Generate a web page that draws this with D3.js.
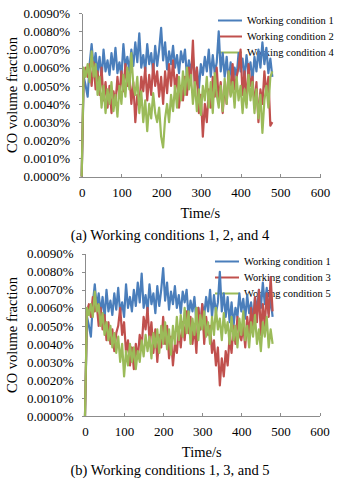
<!DOCTYPE html>
<html lang="en">
<head>
<meta charset="UTF-8">
<title>CO volume fraction</title>
<style>
  body, html { margin: 0; padding: 0; background: #fff; overflow: hidden; }
  svg { display: block; font-family: "Liberation Serif", "Times New Roman", serif; }
  .axis path, .axis line { stroke: #8c8c8c; fill: none; shape-rendering: crispEdges; }
  .axis text { font-size: 13px; fill: #000; font-family: "Liberation Serif", "Times New Roman", serif; }
  .series { fill: none; stroke-width: 2.2; stroke-linejoin: round; }
</style>
</head>
<body>
<svg width="338" height="480"></svg>
<script src="https://d3js.org/d3.v7.min.js"></script>
<script>
// sampling instants (s), one every 5 s
const times = d3.range(0, 485, 5);

// tick values; CO in ppm (10 ppm = 0.0010 %)
const yTicks = [0, 10, 20, 30, 40, 50, 60, 70, 80, 90];
const xTicks = [0, 100, 200, 300, 400, 500, 600];

// Working condition 1 (shown in both panels)
const wc1 = [
  0, 55, 50, 44, 62, 73, 60, 68, 57, 66,
  54, 70, 58, 64, 56, 68, 59, 71, 57, 63,
  55, 73, 60, 66, 58, 70, 61, 74, 63, 79,
  60, 67, 58, 73, 62, 68, 57, 72, 61, 70,
  82, 64, 74, 59, 69, 62, 72, 60, 67, 57,
  69, 63, 70, 55, 64, 58, 66, 52, 60, 48,
  62, 56, 66, 58, 70, 55, 67, 57, 63, 80,
  58, 68, 55, 66, 52, 63, 50, 60, 55, 68,
  58, 65, 54, 67, 57, 63, 53, 66, 58, 70,
  60, 74, 62, 71, 57, 65, 55
];
// Working condition 2
const wc2 = [
  0, 58, 60, 55, 62, 50, 63, 48, 58, 45,
  60, 42, 52, 38, 50, 35, 47, 40, 55, 44,
  58, 47, 62, 50, 57, 40, 52, 30, 45, 38,
  55, 47, 60, 42, 56, 45, 62, 50, 58, 44,
  55, 40, 58, 46, 62, 50, 64, 48, 56, 38,
  50, 42, 55, 45, 60, 52, 75, 48, 60, 35,
  45, 22, 40, 30, 48, 38, 55, 44, 60, 42,
  52, 35, 50, 40, 58, 45, 62, 48, 55, 60,
  70, 45, 58, 40, 62, 50, 55, 38, 52, 30,
  48, 40, 58, 45, 55, 28, 30
];
// Working condition 4
const wc4 = [
  0, 60, 55, 62, 52, 69, 55, 62, 45, 55,
  38, 50, 35, 48, 40, 52, 36, 45, 33, 50,
  40, 56, 44, 60, 48, 68, 50, 45, 55, 35,
  47, 30, 42, 25, 40, 32, 46, 35, 30, 38,
  22, 16, 32, 40, 30, 45, 36, 50, 38, 55,
  42, 58, 45, 60, 48, 56, 40, 52, 36, 48,
  34, 50, 42, 55, 38, 52, 35, 57, 45, 38,
  50, 36, 54, 40, 58, 44, 52, 38, 55, 42,
  50, 35, 48, 38, 56, 42, 52, 35, 48, 32,
  45, 24, 42, 50, 38, 55, 58
];
// Working condition 3
const wc3 = [
  0, 58, 62, 55, 66, 58, 62, 50, 60, 48,
  56, 42, 52, 40, 48, 36, 46, 50, 60, 45,
  52, 35, 42, 28, 38, 26, 40, 32, 45, 38,
  55, 48, 60, 42, 52, 35, 48, 30, 45, 38,
  55, 40, 50, 32, 44, 28, 40, 35, 48, 38,
  52, 42, 58, 46, 55, 40, 50, 35, 60, 48,
  62, 40, 55, 45, 50, 35, 42, 28, 38, 17,
  32, 22, 36, 28, 44, 35, 50, 40, 55, 45,
  42, 50, 38, 55, 45, 60, 48, 66, 52, 70,
  45, 62, 50, 68, 55, 77, 58
];
// Working condition 5
const wc5 = [
  0, 60, 56, 62, 55, 69, 58, 62, 50, 57,
  45, 52, 42, 50, 38, 46, 35, 44, 30, 40,
  22, 36, 28, 40, 30, 38, 26, 36, 30, 42,
  33, 45, 36, 44, 32, 46, 38, 48, 35, 50,
  40, 52, 37, 48, 34, 50, 40, 55, 42, 56,
  44, 60, 46, 58, 40, 54, 45, 60, 42, 56,
  48, 58, 44, 52, 40, 55, 45, 60, 48, 54,
  42, 57, 46, 52, 40, 55, 42, 50, 38, 54,
  45, 58, 42, 50, 38, 52, 44, 56, 40, 48,
  36, 52, 44, 55, 38, 48, 40
];

const colors = ["#4a7ebb", "#c0504d", "#9bbb59"];

const panels = [
  {
    names: ["Working condition 1", "Working condition 2", "Working condition 4"],
    series: [wc1, wc2, wc4],
    caption: "(a) Working conditions 1, 2, and 4",
    left: 81.7, right: 320, top: 13.3, bottom: 176.5,
    ytitleY: 95, xtitleX: 200.3, xtitleY: 218, captionY: 239.5,
    legX: 218, legY: 20.5
  },
  {
    names: ["Working condition 1", "Working condition 3", "Working condition 5"],
    series: [wc1, wc3, wc5],
    caption: "(b) Working conditions 1, 3, and 5",
    left: 85, right: 319.5, top: 253.7, bottom: 416,
    ytitleY: 335, xtitleX: 201.7, xtitleY: 456.5, captionY: 475,
    legX: 215, legY: 261.5
  }
];

const svg = d3.select("svg");

panels.forEach(p => {
  const g = svg.append("g");

  const x = d3.scaleLinear().domain([0, 600]).range([p.left, p.right]);
  const y = d3.scaleLinear().domain([0, 90]).range([p.bottom, p.top]);

  // legend (drawn under the data, as in the original)
  p.names.forEach((name, i) => {
    const ly = p.legY + i * 16;
    g.append("line")
      .attr("x1", p.legX).attr("x2", p.legX + 24)
      .attr("y1", ly).attr("y2", ly)
      .attr("stroke", colors[i]).attr("stroke-width", 2);
    g.append("text")
      .attr("x", p.legX + 29).attr("y", ly)
      .attr("dy", "0.35em")
      .style("font-size", "10.5px")
      .text(name);
  });

  g.append("g")
    .attr("class", "axis")
    .attr("transform", `translate(${p.left},0)`)
    .call(d3.axisLeft(y).tickValues(yTicks).tickSizeInner(3).tickSizeOuter(0).tickPadding(8.5)
      .tickFormat(d => (d / 10000).toFixed(4) + "%"));

  g.append("g")
    .attr("class", "axis")
    .attr("transform", `translate(0,${p.bottom})`)
    .call(d3.axisBottom(x).tickValues(xTicks).tickSizeInner(-3).tickSizeOuter(0).tickPadding(11));

  const line = d3.line()
    .x((d, i) => x(times[i]))
    .y(d => y(d));

  p.series.forEach((s, i) => {
    g.append("path")
      .datum(s)
      .attr("class", "series")
      .attr("stroke", colors[i])
      .attr("d", line);
  });

  // axis titles and caption
  g.append("text")
    .attr("transform", `translate(12,${p.ytitleY}) rotate(-90)`)
    .attr("text-anchor", "middle")
    .attr("dy", "0.35em")
    .style("font-size", "14.5px")
    .text("CO volume fraction");

  g.append("text")
    .attr("x", p.xtitleX).attr("y", p.xtitleY)
    .attr("text-anchor", "middle")
    .style("font-size", "14.5px")
    .text("Time/s");

  g.append("text")
    .attr("x", 170).attr("y", p.captionY)
    .attr("text-anchor", "middle")
    .style("font-size", "14.5px")
    .text(p.caption);
});
</script>
</body>
</html>
